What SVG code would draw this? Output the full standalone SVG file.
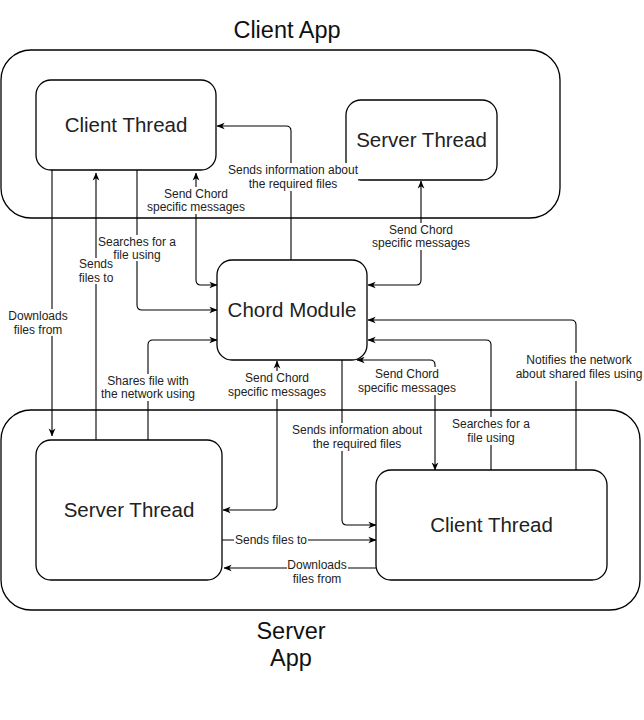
<svg xmlns="http://www.w3.org/2000/svg" width="644" height="720" viewBox="0 0 644 720">
<style>
.box{fill:#fff;stroke:#000;stroke-width:1.3}
.cont{fill:none;stroke:#000;stroke-width:1.3}
.nt{font-family:"Liberation Sans",Arial,sans-serif;font-size:20.5px;fill:#222;text-anchor:middle}
.tt{font-family:"Liberation Sans",Arial,sans-serif;font-size:23.5px;fill:#111;text-anchor:middle}
.ln{fill:none;stroke:#000;stroke-width:1.1}
.lb{font-family:"Liberation Sans",Arial,sans-serif;font-size:12px;fill:#222;text-anchor:middle}
.bg{fill:#fff;stroke:none}
</style>
<defs>
<marker id="ar" viewBox="0 0 10 10" refX="9.5" refY="5" markerWidth="8" markerHeight="8" markerUnits="userSpaceOnUse" orient="auto-start-reverse">
<path d="M0,0.8 L10,5 L0,9.2 L2.8,5 Z" fill="#000"/>
</marker>
</defs>
<rect width="644" height="720" fill="#fff"/>

<g id="client-app">
<rect class="cont" x="1" y="50" width="559" height="168" rx="30"/>
<text class="tt" x="287" y="38">Client App</text>
</g>
<g id="server-app">
<rect class="cont" x="1" y="410" width="639" height="200" rx="30"/>
<text class="tt" x="291" y="639">Server</text>
<text class="tt" x="291" y="666">App</text>
</g>

<g id="client-thread-top">
<rect class="box" x="36" y="80" width="180" height="90" rx="15"/>
<text class="nt" x="126" y="132">Client Thread</text>
</g>
<g id="server-thread-top">
<rect class="box" x="346" y="100" width="151" height="80" rx="15"/>
<text class="nt" x="421.5" y="147">Server Thread</text>
</g>
<g id="chord-module">
<rect class="box" x="217" y="260" width="150" height="100" rx="15"/>
<text class="nt" x="292" y="317">Chord Module</text>
</g>
<g id="server-thread-bottom">
<rect class="box" x="36" y="440" width="186" height="140" rx="15"/>
<text class="nt" x="129" y="517">Server Thread</text>
</g>
<g id="client-thread-bottom">
<rect class="box" x="376" y="470" width="231" height="110" rx="15"/>
<text class="nt" x="491.5" y="532">Client Thread</text>
</g>

<g id="connectors">
<path class="ln" d="M52,170 L52,436" marker-end="url(#ar)"/>
<path class="ln" d="M96,440 L96,173" marker-end="url(#ar)"/>
<path class="ln" d="M137,170 L137,305 Q137,310 142,310 L217,310" marker-end="url(#ar)"/>
<path class="ln" d="M196,173 L196,280 Q196,285 201,285 L217,285" marker-start="url(#ar)" marker-end="url(#ar)"/>
<path class="ln" d="M291,260 L291,131 Q291,126 286,126 L217,126" marker-end="url(#ar)"/>
<path class="ln" d="M421,181 L421,280 Q421,285 416,285 L368,285" marker-start="url(#ar)" marker-end="url(#ar)"/>
<path class="ln" d="M148,440 L148,345 Q148,340 153,340 L217,340" marker-end="url(#ar)"/>
<path class="ln" d="M277,361 L277,505 Q277,510 272,510 L223,510" marker-start="url(#ar)" marker-end="url(#ar)"/>
<path class="ln" d="M357,360 L430,360 Q435,360 435,365 L435,470" marker-start="url(#ar)" marker-end="url(#ar)"/>
<path class="ln" d="M342,360 L342,520 Q342,525 347,525 L376,525" marker-end="url(#ar)"/>
<path class="ln" d="M491,470 L491,345 Q491,340 486,340 L368,340" marker-end="url(#ar)"/>
<path class="ln" d="M576,470 L576,325 Q576,320 571,320 L368,320" marker-end="url(#ar)"/>
<path class="ln" d="M222,540 L376,540" marker-end="url(#ar)"/>
<path class="ln" d="M376,568 L224,568" marker-end="url(#ar)"/>

<rect class="bg" x="9" y="309" width="59" height="27"/>
<text class="lb" x="38" y="320">Downloads</text>
<text class="lb" x="38" y="334">files from</text>

<rect class="bg" x="98" y="235" width="78" height="26"/>
<text class="lb" x="137" y="246">Searches for a</text>
<text class="lb" x="137" y="259">file using</text>

<rect class="bg" x="78" y="258" width="36" height="26"/>
<text class="lb" x="96" y="268">Sends</text>
<text class="lb" x="96" y="282">files to</text>

<rect class="bg" x="147" y="187" width="98" height="27"/>
<text class="lb" x="196" y="198">Send Chord</text>
<text class="lb" x="196" y="211">specific messages</text>

<rect class="bg" x="229" y="163" width="129" height="28"/>
<text class="lb" x="293" y="174">Sends information about</text>
<text class="lb" x="293" y="188">the required files</text>

<rect class="bg" x="372" y="223" width="98" height="27"/>
<text class="lb" x="421" y="234">Send Chord</text>
<text class="lb" x="421" y="247">specific messages</text>

<rect class="bg" x="101" y="374" width="94" height="27"/>
<text class="lb" x="148" y="385">Shares file with</text>
<text class="lb" x="148" y="398">the network using</text>

<rect class="bg" x="228" y="371" width="98" height="28"/>
<text class="lb" x="277" y="382">Send Chord</text>
<text class="lb" x="277" y="396">specific messages</text>

<rect class="bg" x="358" y="367" width="98" height="28"/>
<text class="lb" x="407" y="378">Send Chord</text>
<text class="lb" x="407" y="392">specific messages</text>

<rect class="bg" x="292" y="423" width="130" height="28"/>
<text class="lb" x="357" y="434">Sends information about</text>
<text class="lb" x="357" y="448">the required files</text>

<rect class="bg" x="452" y="417" width="78" height="28"/>
<text class="lb" x="491" y="428">Searches for a</text>
<text class="lb" x="491" y="442">file using</text>

<rect class="bg" x="516" y="353" width="127" height="28"/>
<text class="lb" x="579" y="364">Notifies the network</text>
<text class="lb" x="579" y="378">about shared files using</text>

<rect class="bg" x="234" y="533" width="74" height="14"/>
<text class="lb" x="271" y="544">Sends files to</text>

<rect class="bg" x="287" y="558" width="61" height="28"/>
<text class="lb" x="317" y="569">Downloads</text>
<text class="lb" x="317" y="583">files from</text>
</g>
</svg>
